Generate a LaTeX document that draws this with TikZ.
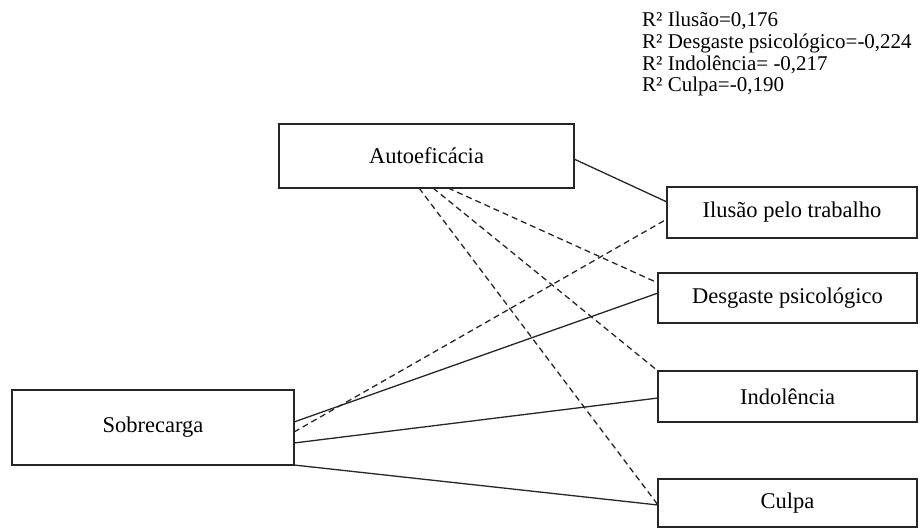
\documentclass[tikz,border=0pt]{standalone}
\usepackage{fontspec}
\setmainfont{Liberation Serif}
\begin{document}
\begin{tikzpicture}[x=1pt,y=-1pt,
  box/.style={draw=black!85,line width=1.3pt,fill=white,inner sep=0pt,outer sep=0pt,font=\fontsize{22.5}{26}\selectfont},
  solidlink/.style={draw=black!85,line width=1.3pt},
  dashlink/.style={draw=black!85,line width=1.3pt,dash pattern=on 6pt off 4pt}]
\useasboundingbox (0,0) rectangle (920,528);
\node[box,minimum width=295pt,minimum height=64pt] (auto) at (426.5,156) {Autoeficácia};
\node[box,minimum width=282pt,minimum height=75pt] (sobre) at (153,427.5) {Sobrecarga};
\node[box,minimum width=250pt,minimum height=51pt] (ilu) at (792,212.5) {Ilusão pelo trabalho};
\node[box,minimum width=259pt,minimum height=50pt] (des) at (787.5,298) {Desgaste psicológico};
\node[box,minimum width=259pt,minimum height=51pt] (ind) at (787.5,396.5) {Indolência};
\node[box,minimum width=259pt,minimum height=48pt] (cul) at (787.5,503) {Culpa};
\node[anchor=north west,align=left,inner sep=0pt,font=\fontsize{21}{21.7}\selectfont] (r2) at (642,12)
  {R² Ilusão=0,176\\R² Desgaste psicológico=-0,224\\R² Indolência= -0,217\\R² Culpa=-0,190};
% Autoeficacia links
\draw[solidlink] ([yshift=-3pt]auto.east) -- ([yshift=10.5pt]ilu.west);
\draw[dashlink] ([xshift=169pt]auto.south west) -- ([yshift=-10pt]des.north west);
\draw[dashlink] ([xshift=154pt]auto.south west) -- (ind.north west);
\draw[dashlink] ([xshift=140pt]auto.south west) -- ([yshift=-2pt]cul.west);
% Sobrecarga links
\draw[dashlink] ([yshift=-4.5pt]sobre.east) -- ([yshift=-6.5pt]ilu.west);
\draw[solidlink] ([yshift=5.5pt]sobre.east) -- ([yshift=5pt]des.west);
\draw[solidlink] ([yshift=-15.5pt]sobre.east) -- ([yshift=-1.5pt]ind.west);
\draw[solidlink] (sobre.south east) -- ([yshift=-2pt]cul.west);
\end{tikzpicture}
\end{document}
